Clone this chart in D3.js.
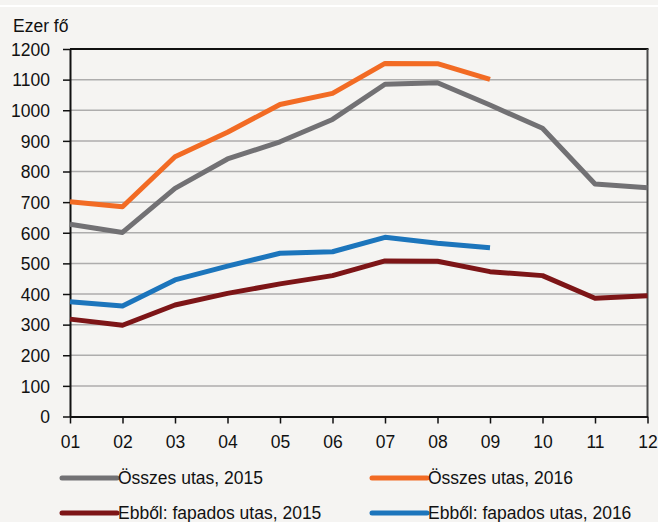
<!DOCTYPE html>
<html>
<head>
<meta charset="utf-8">
<script src="https://cdn.jsdelivr.net/npm/d3@7"></script>
<style>
    html, body { margin: 0; padding: 0; background: #f5f4f2; }
    svg { display: block; font-family: "Liberation Sans", Arial, sans-serif; }
</style>
</head>
<body>
<div id="chart"></div>
<script>
const months = ["01", "02", "03", "04", "05", "06", "07", "08", "09", "10", "11", "12"];
const yTicks = [0, 100, 200, 300, 400, 500, 600, 700, 800, 900, 1000, 1100, 1200];

const total2015 = [628, 601, 745, 841, 897, 970, 1085, 1090, 1017, 941, 759, 747];
const total2016 = [701, 685, 848, 928, 1019, 1055, 1153, 1152, 1101];
const lowcost2015 = [318, 298, 364, 402, 433, 460, 508, 507, 473, 460, 386, 394];
const lowcost2016 = [375, 361, 446, 491, 533, 538, 585, 566, 551];

const seriesNames = [
    "Összes utas, 2015",
    "Összes utas, 2016",
    "Ebből: fapados utas, 2015",
    "Ebből: fapados utas, 2016"
];
const seriesColors = ["#727174", "#f26b24", "#7d1517", "#1c75bc"];

const series = [total2015, total2016, lowcost2015, lowcost2016].map((values, i) => ({
    name: seriesNames[i],
    color: seriesColors[i],
    values: values.map((v, j) => ({ month: months[j], value: v }))
}));

const width = 658, height = 522;
const margin = { top: 49, right: 10, bottom: 106, left: 70 };
const innerWidth = width - margin.left - margin.right;
const innerHeight = height - margin.top - margin.bottom;

const svg = d3.select("#chart").append("svg")
    .attr("width", width)
    .attr("height", height);

svg.append("rect")
    .attr("width", width)
    .attr("height", height)
    .attr("fill", "#f5f4f2");

// thin white strip at the top
svg.append("rect")
    .attr("x", 0)
    .attr("y", 5)
    .attr("width", width)
    .attr("height", 2)
    .attr("fill", "#ffffff");

const g = svg.append("g")
    .attr("transform", `translate(${margin.left}, ${margin.top})`);

// ---- Scales ----
const x = d3.scalePoint()
    .domain(months)
    .range([0, innerWidth - 0.5]);

const y = d3.scaleLinear()
    .domain([0, 1200])
    .range([innerHeight + 0.5, 0]);

// ---- Grid ----
g.append("g")
    .selectAll("line")
    .data(yTicks.filter(d => d > 0 && d < 1200))
    .enter()
    .append("line")
    .attr("x1", 0)
    .attr("x2", x("12"))
    .attr("y1", d => y(d))
    .attr("y2", d => y(d))
    .attr("stroke", "#aeadad")
    .attr("stroke-width", 1.5);

// top and right frame
g.append("line")
    .attr("x1", 0)
    .attr("x2", x("12") + 1)
    .attr("y1", y(1200))
    .attr("y2", y(1200))
    .attr("stroke", "#111")
    .attr("stroke-width", 2);

g.append("line")
    .attr("x1", x("12"))
    .attr("x2", x("12"))
    .attr("y1", y(1200))
    .attr("y2", y(0))
    .attr("stroke", "#4a4a4a")
    .attr("stroke-width", 2);

// ---- Axes ----
const yAxis = g.append("g")
    .call(d3.axisLeft(y)
        .tickValues(yTicks)
        .tickFormat(d3.format("d"))
        .tickSize(7)
        .tickPadding(13)
        .tickSizeOuter(0));

const xAxis = g.append("g")
    .attr("transform", `translate(0, ${y(0)})`)
    .call(d3.axisBottom(x).tickSize(7).tickPadding(10).tickSizeOuter(0));

[yAxis, xAxis].forEach(a => {
    a.select(".domain").attr("stroke", "#111").attr("stroke-width", 2);
    a.selectAll(".tick line").attr("stroke", "#111").attr("stroke-width", 1.5);
    a.selectAll(".tick text")
        .attr("fill", "#111")
        .style("font-size", "17.5px")
        .style("font-family", "'Liberation Sans', Arial, sans-serif");
});
yAxis.selectAll(".tick text").attr("dy", "0.36em");
xAxis.selectAll(".tick text").attr("dy", "0.8em");

// ---- Lines ----
const line = d3.line()
    .x(d => x(d.month))
    .y(d => y(d.value));

g.selectAll(".series")
    .data(series)
    .enter()
    .append("path")
    .attr("class", "series")
    .attr("d", d => line(d.values))
    .attr("fill", "none")
    .attr("stroke", d => d.color)
    .attr("stroke-width", 5)
    .attr("stroke-linejoin", "round");

// ---- Unit label ----
svg.append("text")
    .attr("x", 13)
    .attr("y", 32)
    .style("font-size", "17.5px")
    .attr("fill", "#111")
    .text("Ezer fő");

// ---- Legend ----
const legendPos = [
    { x: 62, y: 478 },
    { x: 372, y: 478 },
    { x: 62, y: 513 },
    { x: 372, y: 513 }
];

const legend = svg.selectAll(".legend")
    .data(series)
    .enter()
    .append("g")
    .attr("transform", (d, i) => `translate(${legendPos[i].x}, ${legendPos[i].y})`);

legend.append("line")
    .attr("x1", 0)
    .attr("x2", 55)
    .attr("y1", 0)
    .attr("y2", 0)
    .attr("stroke", d => d.color)
    .attr("stroke-width", 5)
    .attr("stroke-linecap", "round");

legend.append("text")
    .attr("x", 56)
    .attr("y", 0)
    .attr("dy", "0.36em")
    .style("font-size", "17.5px")
    .attr("fill", "#111")
    .text(d => d.name);
</script>
</body>
</html>
